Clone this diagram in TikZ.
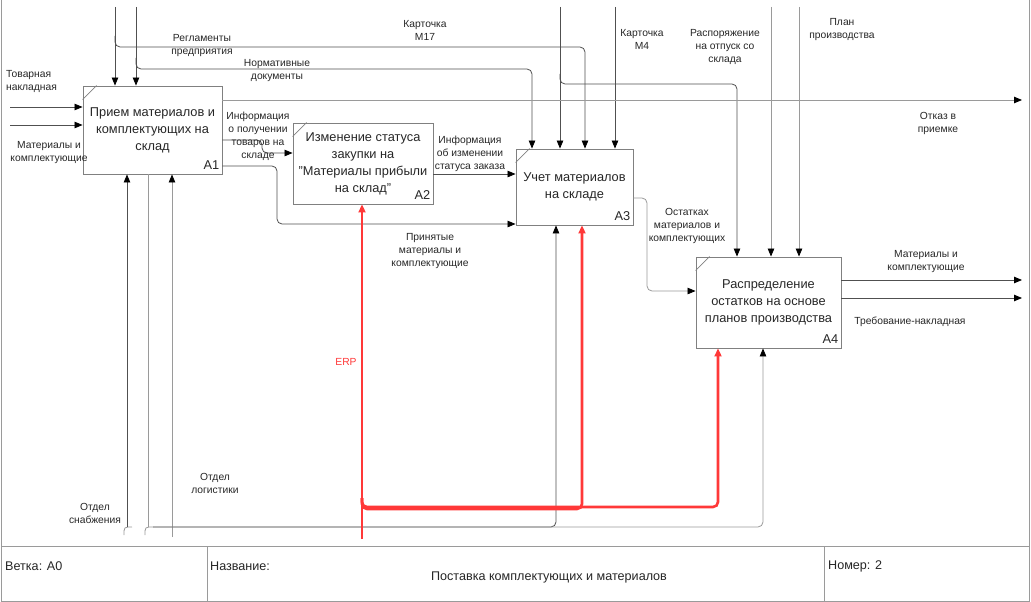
\documentclass[tikz,border=0pt]{standalone}
\usepackage{fontspec}
\setmainfont{Liberation Sans}
\usetikzlibrary{arrows.meta,calc}
\definecolor{lineC}{HTML}{505050}
\definecolor{lightC}{HTML}{9A9A9A}
\definecolor{boxC}{HTML}{808080}
\definecolor{erpC}{HTML}{FF3838}
\definecolor{txtC}{HTML}{262626}
\begin{document}
\begin{tikzpicture}[x=1pt,y=-1pt,
  line/.style={draw=lineC, line width=0.8pt, rounded corners=5pt},
  lightline/.style={draw=lightC, line width=0.8pt, rounded corners=5pt},
  arr/.style={line, -{Triangle[length=8pt,width=6.5pt,color=black]}},
  lightarr/.style={lightline, -{Triangle[length=8pt,width=6.5pt,color=black]}},
  erp/.style={draw=erpC, line width=2.6pt, rounded corners=5pt, -{Triangle[length=8pt,width=7pt,color=erpC]}},
  box/.style={draw=boxC, line width=0.9pt, align=center, inner sep=0pt,
    font=\fontsize{12.8}{17}\selectfont, text=txtC},
  num/.style={inner sep=0pt, font=\fontsize{12.8}{14}\selectfont, text=txtC, anchor=south east},
  lab/.style={inner sep=0pt, align=center, font=\fontsize{10.3}{13}\selectfont, text=txtC},
  tab/.style={inner sep=0pt, font=\fontsize{12.6}{14}\selectfont, text=txtC},
  frame/.style={draw=lightC, line width=0.8pt},
  diag/.style={draw=boxC, line width=0.6pt}
]
\useasboundingbox (0,0) rectangle (1031,602);

% ---------- frame and title block ----------
\draw[frame] (1.5,0) -- (1.5,601) -- (1029.5,601) -- (1029.5,0);
\draw[frame] (1.5,546) -- (1029.5,546);
\draw[frame] (207,546) -- (207,601);
\draw[frame] (824,546) -- (824,601);
\node[tab, anchor=west] (branch) at (5,566) {Ветка: A0};
\node[tab, anchor=west] (namehd) at (210,566) {Название:};
\node[tab] (title) at (549,577) {Поставка комплектующих и материалов};
\node[tab, anchor=west] (numhd) at (828,566) {Номер: 2};

% ---------- boxes ----------
\node[box, minimum width=139pt, minimum height=88pt] (A1) at (152.5,130)
  {Прием материалов и\\комплектующих на\\склад};
\node[box, minimum width=140pt, minimum height=81pt] (A2) at (363,163.5)
  {Изменение статуса\\закупки на\\"Материалы прибыли\\на склад"};
\node[box, minimum width=117pt, minimum height=76pt] (A3) at (574.5,187)
  {Учет материалов\\на складе};
\node[box, minimum width=145pt, minimum height=91pt] (A4) at (768.5,302.5)
  {Распределение\\остатков на основе\\планов производства};
\foreach \b in {A1,A2,A3,A4}{
  \draw[diag] ([yshift=-14pt]\b.north west) -- ([xshift=14pt]\b.north west);
}
\node[num] (A1n) at ([xshift=-3pt,yshift=5pt]A1.south east) {A1};
\node[num] (A2n) at ([xshift=-3pt,yshift=5pt]A2.south east) {A2};
\node[num] (A3n) at ([xshift=-3pt,yshift=5pt]A3.south east) {A3};
\node[num] (A4n) at ([xshift=-3pt,yshift=5pt]A4.south east) {A4};

% ---------- coordinates ----------
\coordinate (i1) at (10,107);
\coordinate (i2) at (10,125);
\coordinate (t1) at (115,7);
\coordinate (t2) at (136,7);
\coordinate (t3) at (560,7);
\coordinate (t4) at (615,7);
\coordinate (t5) at (771,7);
\coordinate (t6) at (799,7);
\coordinate (b1) at (115,36);
\coordinate (j1) at (585,47);
\coordinate (b2) at (136,58);
\coordinate (j2) at (532,69);
\coordinate (b3) at (560,74);
\coordinate (j3) at (737,84);
\coordinate (o1) at (1022,100);
\coordinate (o2) at (1022,280);
\coordinate (o3) at (1022,298);
\coordinate (e1a) at (262,140);
\coordinate (e1b) at (262,153);
\coordinate (e2a) at (277,166);
\coordinate (e2b) at (277,224);
\coordinate (e3) at (470,174);
\coordinate (e4a) at (647,198);
\coordinate (e4b) at (647,291);
\coordinate (m1v) at (127,527);
\coordinate (m1s) at (124,535);
\coordinate (m1e) at (132,527);
\coordinate (m2v) at (148,527);
\coordinate (m2s) at (145,535);
\coordinate (m2h) at (153,527);
\coordinate (m3s) at (172,537);
\coordinate (j5) at (556,527);
\coordinate (j4) at (763,527);
\coordinate (r0) at (362,539);
\coordinate (rb) at (362,498);
\coordinate (rj1) at (582,509);
\coordinate (rj2) at (718,507);

% ---------- inputs ----------
\draw[arr] (i1) -- (i1 -| A1.west);
\draw[arr] (i2) -- (i2 -| A1.west);

% ---------- controls ----------
\draw[arr] (t1) -- (t1 |- A1.north);
\draw[arr] (t2) -- (t2 |- A1.north);
\draw[arr] (b1) |- (j1) -- (j1 |- A3.north);
\draw[arr] (b2) |- (j2) -- (j2 |- A3.north);
\draw[arr] (t3) -- (t3 |- A3.north);
\draw[arr] (b3) |- (j3) -- (j3 |- A4.north);
\draw[arr] (t4) -- (t4 |- A3.north);
\draw[lightarr] (t5) -- (t5 |- A4.north);
\draw[lightarr] (t6) -- (t6 |- A4.north);

% ---------- outputs ----------
\draw[lightarr] (A1.east |- o1) -- (o1);
\draw[arr] (A1.east |- e1a) -- (e1a) -- (e1b) -- (e1b -| A2.west);
\draw[arr] (A1.east |- e2a) -- (e2a) -- (e2b) -- (e2b -| A3.west);
\draw[arr] (A2.east |- e3) -- (e3 -| A3.west);
\draw[lightarr] (A3.east |- e4a) -- (e4a) -- (e4b) -- (e4b -| A4.west);
\draw[arr] (A4.east |- o2) -- (o2);
\draw[arr] (A4.east |- o3) -- (o3);

% ---------- mechanisms ----------
\draw[lightline] (m1s) .. controls (124,527) .. (m1e);
\draw[lightline] (m2s) .. controls (145,527) .. (m2h);
\draw[arr] (m1v) -- (m1v |- A1.south);
\draw[lightline] (m2v) -- (m2v |- A1.south);
\draw[lightarr] (m3s) -- (m3s |- A1.south);
\draw[arr] (m2h) -- (j5) -- (j5 |- A3.south);
\draw[lightarr] (m2h) -- (j4) -- (j4 |- A4.south);

% ---------- ERP ----------
\draw[erp] (r0) -- (r0 |- A2.south);
\draw[erp] (rb) |- (rj1) -- (rj1 |- A3.south);
\draw[erp] (rb) |- (rj2) -- (rj2 |- A4.south);

% ---------- labels ----------
\node[lab, anchor=west, align=left] (l1) at (6,81.5) {Товарная\\накладная};
\node[lab] (l2) at (49,153) {Материалы и\\комплектующие};
\node[lab] (l3) at (202,45.5) {Регламенты\\предприятия};
\node[lab] (l4) at (277,70.5) {Нормативные\\документы};
\node[lab] (l5) at (425,30) {Карточка\\М17};
\node[lab] (l6) at (642,39.5) {Карточка\\М4};
\node[lab] (l7) at (725,46.5) {Распоряжение\\на отпуск со\\склада};
\node[lab] (l8) at (842,30) {План\\производства};
\node[lab] (l9) at (938,123) {Отказ в\\приемке};
\node[lab] (l10) at (258,136.5) {Информация\\о получении\\товаров на\\складе};
\node[lab] (l11) at (470,154) {Информация\\об изменении\\статуса заказа};
\node[lab] (l12) at (430,251) {Принятые\\материалы и\\комплектующие};
\node[lab] (l13) at (687,226) {Остатках\\материалов и\\комплектующих};
\node[lab] (l14) at (926,262) {Материалы и\\комплектующие};
\node[lab] (l15) at (910,322) {Требование-накладная};
\node[lab, text=erpC] (l16) at (346,362) {ERP};
\node[lab] (l17) at (215,483.5) {Отдел\\логистики};
\node[lab] (l18) at (95,513.5) {Отдел\\снабжения};
\end{tikzpicture}
\end{document}
